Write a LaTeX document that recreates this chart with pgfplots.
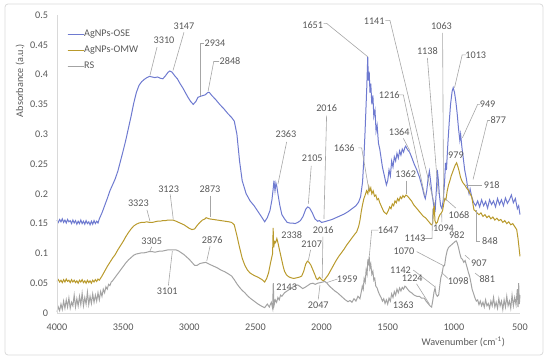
\documentclass[border=0pt]{standalone}
\usepackage{pgfplots}
\pgfplotsset{compat=1.18}
\usepackage{fontspec}
\setmainfont{Carlito}
\definecolor{oseblue}{HTML}{6E7AD0}
\definecolor{omwgold}{HTML}{B99A2C}
\definecolor{rsgray}{HTML}{A3A3A3}
\definecolor{labelgray}{HTML}{595959}
\definecolor{leadgray}{HTML}{A6A6A6}
\definecolor{framegray}{HTML}{D9D9D9}
\begin{document}
\begin{tikzpicture}[font=\fontsize{10.2bp}{12bp}\selectfont]
\draw[framegray, line width=0.75bp, rounded corners=3bp] (5bp,7bp) rectangle (543bp,358bp);
\begin{axis}[
  at={(57bp,49bp)}, anchor=south west,
  scale only axis, width=463bp, height=298bp,
  xmin=500, xmax=4000, ymin=0, ymax=0.5,
  x dir=reverse,
  xtick={500,1000,...,4000},
  ytick={0,0.05,...,0.5},
  axis line style={draw=none},
  major tick length=0pt,
  tick style={draw=none},
  clip=false,
  /pgf/number format/.cd, fixed, precision=2, 1000 sep={}, assume math mode=true,
  /pgfplots/.cd,
  yticklabel style={anchor=east, inner sep=0pt, xshift=-8.7bp, text=labelgray},
  xticklabel style={anchor=north, inner sep=0pt, yshift=-10.2bp, text=labelgray},
  legend style={at={(axis description cs:0.0216,0.952)}, anchor=north west, draw=none, fill=none,
    inner sep=0pt, row sep=6.5bp, font=\fontsize{10.2bp}{12bp}\selectfont,
    nodes={inner sep=0pt, text height=7bp, text depth=2.5bp, text=labelgray}},
  legend cell align=left,
  legend image code/.code={\draw[#1, line width=1bp] (0bp,0bp) -- (14bp,0bp); \path (0bp,0bp) -- (16bp,0bp);},
]
\addplot[oseblue, line width=1bp] coordinates {
(4000,0.156)(3990,0.152)(3980,0.157)(3970,0.153)(3960,0.158)(3950,0.152)(3940,0.156)(3930,0.151)(3920,0.157)(3910,0.153)
(3900,0.155)(3890,0.150)(3880,0.156)(3870,0.151)(3860,0.155)(3850,0.149)(3840,0.154)(3830,0.150)(3820,0.156)(3810,0.150)
(3800,0.154)(3790,0.149)(3780,0.155)(3770,0.150)(3760,0.153)(3750,0.148)(3740,0.154)(3730,0.149)(3720,0.155)(3710,0.150)
(3700,0.154)(3690,0.151)(3680,0.158)(3660,0.168)(3640,0.180)(3620,0.192)
(3600,0.205)(3580,0.215)(3560,0.225)(3540,0.238)(3520,0.255)(3500,0.272)(3480,0.290)(3460,0.310)(3440,0.330)(3420,0.352)
(3400,0.370)(3380,0.382)(3360,0.388)(3340,0.392)(3320,0.395)(3300,0.397)(3280,0.396)(3260,0.395)(3240,0.396)(3220,0.394)
(3200,0.393)(3180,0.398)(3160,0.404)(3147,0.406)(3130,0.404)(3110,0.398)(3090,0.393)(3070,0.385)(3050,0.378)(3030,0.370)
(3010,0.362)(2990,0.355)(2970,0.350)(2950,0.355)(2934,0.362)(2910,0.364)(2880,0.366)(2860,0.370)(2848,0.370)(2830,0.365)
(2800,0.358)(2770,0.350)(2740,0.343)(2710,0.335)(2680,0.328)(2660,0.322)(2640,0.300)(2620,0.255)(2600,0.222)(2570,0.200)
(2540,0.188)(2510,0.180)(2480,0.170)(2450,0.160)(2430,0.153)(2410,0.160)(2390,0.172)(2375,0.190)(2365,0.210)(2360,0.222)
(2352,0.205)(2345,0.218)(2338,0.212)(2330,0.200)(2315,0.180)(2300,0.165)(2280,0.158)(2260,0.152)(2240,0.151)(2220,0.151)
(2200,0.150)(2180,0.152)(2160,0.155)(2140,0.162)(2120,0.174)(2105,0.178)(2090,0.176)(2070,0.168)(2050,0.158)(2030,0.154)
(2016,0.155)(2000,0.152)(1980,0.153)(1950,0.155)(1920,0.157)(1890,0.160)(1860,0.163)(1830,0.166)(1800,0.170)(1770,0.175)
(1740,0.180)(1720,0.186)(1705,0.195)(1690,0.220)(1680,0.260)(1672,0.300)(1665,0.340)(1658,0.380)(1651,0.430)(1646,0.390)
(1640,0.405)(1634,0.370)(1628,0.385)(1620,0.350)(1612,0.365)(1605,0.330)(1596,0.340)(1588,0.305)(1580,0.315)(1570,0.285)
(1560,0.275)(1550,0.260)(1540,0.245)(1530,0.235)(1520,0.225)(1510,0.215)(1500,0.222)(1490,0.240)(1480,0.230)(1470,0.255)
(1460,0.245)(1450,0.262)(1440,0.255)(1430,0.268)(1420,0.260)(1410,0.272)(1400,0.265)(1390,0.275)(1380,0.270)(1370,0.278)
(1364,0.280)(1350,0.274)(1335,0.270)(1320,0.262)(1300,0.250)(1280,0.240)(1260,0.228)(1240,0.212)(1225,0.198)(1216,0.192)
(1205,0.205)(1195,0.225)(1185,0.238)(1175,0.220)(1165,0.200)(1155,0.185)(1148,0.175)(1141,0.172)(1138,0.185)(1130,0.215)
(1125,0.240)(1118,0.225)(1110,0.200)(1100,0.180)(1090,0.175)(1080,0.190)(1070,0.220)(1063,0.252)(1056,0.240)(1045,0.285)
(1035,0.320)(1025,0.350)(1013,0.372)(1005,0.378)(995,0.370)(985,0.355)(975,0.335)(965,0.310)(955,0.290)(949,0.300)
(940,0.280)(930,0.262)(918,0.240)(905,0.225)(895,0.210)(885,0.200)(877,0.208)(865,0.195)(850,0.185)(835,0.180)
(820,0.188)(805,0.178)(790,0.190)(775,0.180)(760,0.187)(745,0.176)(730,0.190)(715,0.182)(700,0.188)(685,0.178)
(670,0.192)(655,0.182)(640,0.190)(625,0.180)(610,0.193)(595,0.184)(580,0.190)(565,0.198)(550,0.185)(535,0.192)
(520,0.175)(510,0.180)(500,0.165)
};
\addlegendentry{AgNPs-OSE}
\addplot[omwgold, line width=1bp] coordinates {
(4000,0.053)(3990,0.056)(3980,0.052)(3970,0.055)(3960,0.051)(3950,0.056)(3940,0.052)(3930,0.057)(3920,0.053)(3910,0.055)
(3900,0.051)(3890,0.056)(3880,0.052)(3870,0.055)(3860,0.051)(3850,0.054)(3840,0.050)(3830,0.055)(3820,0.052)(3810,0.056)
(3800,0.051)(3790,0.054)(3780,0.050)(3770,0.055)(3760,0.051)(3750,0.054)(3740,0.050)(3730,0.055)(3720,0.052)(3710,0.056)
(3700,0.053)(3690,0.057)(3680,0.055)(3660,0.062)(3640,0.070)(3620,0.078)
(3600,0.085)(3580,0.092)(3560,0.098)(3540,0.106)(3520,0.113)(3500,0.120)(3480,0.128)(3460,0.135)(3440,0.141)(3420,0.146)
(3400,0.149)(3380,0.151)(3360,0.152)(3340,0.152)(3323,0.153)(3300,0.152)(3280,0.152)(3260,0.153)(3240,0.154)(3220,0.154)
(3200,0.155)(3180,0.155)(3160,0.156)(3140,0.156)(3123,0.156)(3100,0.154)(3080,0.152)(3060,0.150)(3040,0.148)(3020,0.145)
(3000,0.142)(2980,0.140)(2960,0.141)(2940,0.147)(2920,0.152)(2900,0.156)(2880,0.158)(2873,0.160)(2850,0.158)(2820,0.157)
(2790,0.156)(2760,0.155)(2730,0.154)(2700,0.153)(2680,0.152)(2660,0.148)(2640,0.130)(2620,0.110)(2600,0.092)(2580,0.080)
(2560,0.072)(2540,0.067)(2510,0.063)(2480,0.060)(2450,0.056)(2430,0.052)(2415,0.058)(2400,0.068)(2385,0.085)(2370,0.100)
(2366,0.143)(2362,0.110)(2355,0.120)(2348,0.118)(2338,0.125)(2330,0.118)(2320,0.108)(2310,0.098)(2300,0.088)(2290,0.078)
(2280,0.070)(2265,0.064)(2250,0.061)(2230,0.059)(2210,0.058)(2190,0.059)(2170,0.060)(2150,0.062)(2135,0.070)(2120,0.082)
(2107,0.087)(2095,0.085)(2080,0.080)(2065,0.072)(2050,0.064)(2040,0.058)(2030,0.056)(2016,0.060)(2000,0.056)(1985,0.054)
(1970,0.058)(1950,0.064)(1930,0.072)(1910,0.080)(1890,0.088)(1870,0.095)(1850,0.101)(1830,0.107)(1810,0.114)(1790,0.120)
(1770,0.126)(1750,0.132)(1735,0.136)(1720,0.145)(1710,0.155)(1700,0.170)(1690,0.182)(1680,0.192)(1670,0.198)(1660,0.205)
(1650,0.200)(1643,0.212)(1636,0.205)(1628,0.210)(1620,0.200)(1610,0.205)(1600,0.196)(1590,0.198)(1580,0.190)(1570,0.192)
(1560,0.185)(1550,0.180)(1540,0.175)(1530,0.170)(1520,0.168)(1508,0.166)(1495,0.172)(1485,0.178)(1475,0.175)(1465,0.183)
(1455,0.180)(1445,0.188)(1435,0.185)(1425,0.192)(1415,0.188)(1405,0.195)(1395,0.192)(1385,0.197)(1375,0.194)(1362,0.198)
(1350,0.196)(1335,0.192)(1320,0.188)(1305,0.182)(1290,0.178)(1275,0.174)(1260,0.170)(1245,0.166)(1230,0.162)(1215,0.160)
(1200,0.156)(1185,0.152)(1170,0.148)(1160,0.150)(1153,0.175)(1148,0.180)(1143,0.155)(1135,0.150)(1125,0.152)(1115,0.160)
(1105,0.165)(1094,0.168)(1085,0.172)(1075,0.185)(1068,0.192)(1060,0.190)(1050,0.205)(1040,0.215)(1030,0.222)(1020,0.230)
(1010,0.236)(1000,0.242)(990,0.248)(979,0.252)(970,0.246)(960,0.238)(950,0.228)(940,0.222)(930,0.218)(918,0.215)
(905,0.210)(890,0.206)(877,0.200)(865,0.195)(855,0.182)(848,0.173)(840,0.172)(825,0.168)(810,0.165)(795,0.168)
(780,0.162)(765,0.165)(750,0.160)(735,0.163)(720,0.158)(705,0.161)(690,0.156)(675,0.159)(660,0.155)(645,0.157)
(630,0.152)(615,0.155)(600,0.150)(585,0.153)(570,0.148)(555,0.150)(540,0.145)(525,0.140)(515,0.125)(505,0.105)
(500,0.095)
};
\addlegendentry{AgNPs-OMW}
\addplot[rsgray, line width=1bp] coordinates {
(4000,0.002)(3990,0.010)(3980,0.004)(3970,0.015)(3960,0.006)(3950,0.020)(3940,0.008)(3930,0.022)(3920,0.010)(3910,0.025)
(3900,0.008)(3890,0.018)(3880,0.012)(3870,0.030)(3860,0.010)(3850,0.024)(3840,0.012)(3830,0.028)(3820,0.014)(3810,0.033)
(3800,0.012)(3790,0.026)(3780,0.015)(3770,0.035)(3760,0.014)(3750,0.028)(3740,0.016)(3730,0.032)(3720,0.018)(3710,0.030)
(3700,0.020)(3690,0.034)(3680,0.022)(3670,0.036)(3660,0.028)(3650,0.040)(3640,0.034)(3630,0.044)(3620,0.040)(3610,0.048)
(3600,0.046)(3590,0.052)(3580,0.054)(3560,0.060)(3540,0.066)(3520,0.072)(3500,0.078)(3480,0.084)(3460,0.089)(3440,0.093)
(3420,0.097)(3400,0.099)(3380,0.100)(3360,0.101)(3340,0.101)(3320,0.102)(3305,0.103)(3280,0.103)(3260,0.102)(3240,0.103)
(3220,0.104)(3200,0.104)(3180,0.105)(3160,0.106)(3140,0.106)(3120,0.106)(3101,0.106)(3080,0.104)(3060,0.101)(3040,0.098)
(3020,0.094)(3000,0.090)(2980,0.085)(2960,0.080)(2940,0.080)(2920,0.083)(2900,0.084)(2876,0.085)(2850,0.082)(2820,0.079)
(2790,0.076)(2760,0.072)(2730,0.069)(2700,0.065)(2680,0.062)(2660,0.056)(2640,0.049)(2620,0.043)(2600,0.038)(2580,0.034)
(2560,0.029)(2540,0.025)(2510,0.020)(2480,0.015)(2450,0.011)(2430,0.009)(2410,0.015)(2395,0.010)(2380,0.018)(2370,0.008)
(2365,0.050)(2360,0.012)(2350,0.022)(2340,0.018)(2330,0.026)(2320,0.022)(2310,0.030)(2300,0.028)(2280,0.034)(2260,0.037)
(2240,0.040)(2220,0.043)(2200,0.046)(2180,0.047)(2160,0.044)(2143,0.041)(2125,0.043)(2105,0.046)(2085,0.049)(2065,0.050)
(2047,0.048)(2030,0.050)(2010,0.051)(1990,0.052)(1975,0.053)(1959,0.050)(1940,0.045)(1920,0.041)(1900,0.037)(1880,0.034)
(1860,0.030)(1840,0.026)(1820,0.022)(1800,0.019)(1785,0.021)(1770,0.018)(1755,0.024)(1740,0.020)(1725,0.028)(1710,0.024)
(1700,0.035)(1692,0.045)(1685,0.040)(1678,0.058)(1670,0.052)(1663,0.072)(1656,0.065)(1650,0.090)(1645,0.080)(1640,0.095)
(1635,0.075)(1628,0.082)(1620,0.065)(1612,0.070)(1605,0.055)(1598,0.058)(1590,0.045)(1580,0.042)(1570,0.035)(1560,0.030)
(1550,0.026)(1540,0.020)(1530,0.024)(1520,0.016)(1510,0.022)(1500,0.015)(1490,0.025)(1480,0.020)(1470,0.032)(1460,0.026)
(1450,0.036)(1440,0.030)(1430,0.040)(1420,0.034)(1410,0.042)(1400,0.037)(1390,0.043)(1380,0.040)(1370,0.045)(1363,0.044)
(1350,0.040)(1335,0.036)(1320,0.034)(1300,0.030)(1280,0.028)(1260,0.028)(1245,0.025)(1224,0.025)(1210,0.020)(1195,0.016)
(1180,0.012)(1168,0.010)(1160,0.020)(1150,0.035)(1142,0.042)(1135,0.032)(1125,0.028)(1115,0.030)(1105,0.048)(1098,0.060)
(1090,0.065)(1080,0.078)(1070,0.080)(1060,0.095)(1050,0.105)(1040,0.110)(1030,0.112)(1015,0.115)(1000,0.118)(990,0.120)
(982,0.121)(975,0.118)(965,0.110)(955,0.100)(945,0.092)(935,0.090)(925,0.085)(915,0.088)(907,0.082)(898,0.075)
(890,0.068)(881,0.062)(872,0.052)(862,0.040)(850,0.032)(840,0.025)(830,0.020)(820,0.022)(810,0.014)(800,0.020)
(790,0.012)(780,0.018)(770,0.010)(760,0.022)(750,0.012)(740,0.016)(730,0.008)(720,0.020)(710,0.012)(700,0.026)
(690,0.010)(680,0.018)(670,0.008)(660,0.024)(650,0.012)(640,0.020)(630,0.006)(620,0.022)(610,0.010)(600,0.028)
(590,0.012)(580,0.020)(570,0.008)(560,0.030)(550,0.012)(540,0.026)(530,0.014)(520,0.040)(515,0.010)(510,0.050)
(505,0.015)(500,0.030)
};
\addlegendentry{RS}
% leader lines
\begin{scope}[leadgray, line width=0.6bp]
\draw (axis cs:3244,0.446) -- (axis cs:3297,0.399);
\draw (axis cs:3040,0.471) -- (axis cs:3123,0.407);
\draw (axis cs:2888,0.453) -- (axis cs:2919,0.453) -- (axis cs:2919,0.364);
\draw (axis cs:2775,0.422) -- (axis cs:2815,0.422) -- (axis cs:2858,0.372);
\draw (axis cs:2264,0.287) -- (axis cs:2330,0.216);
\draw (axis cs:2078,0.247) -- (axis cs:2100,0.183);
\draw (axis cs:1962,0.331) -- (axis cs:1982,0.158);
\draw (axis cs:1722,0.277) -- (axis cs:1697,0.277) -- (axis cs:1642,0.206);
\draw (axis cs:1985,0.486) -- (axis cs:1962,0.486) -- (axis cs:1651,0.430);
\draw (axis cs:1518,0.491) -- (axis cs:1483,0.491) -- (axis cs:1145,0.180);
\draw (axis cs:1200,0.428) -- (axis cs:1118,0.200);
\draw (axis cs:1085,0.470) -- (axis cs:1078,0.190);
\draw (axis cs:910,0.433) -- (axis cs:937,0.433) -- (axis cs:995,0.378);
\draw (axis cs:1413,0.366) -- (axis cs:1382,0.366) -- (axis cs:1220,0.197);
\draw (axis cs:1382,0.293) -- (axis cs:1332,0.272);
\draw (axis cs:1362,0.222) -- (axis cs:1362,0.200);
\draw (axis cs:802,0.350) -- (axis cs:820,0.350) -- (axis cs:935,0.294);
\draw (axis cs:727,0.323) -- (axis cs:745,0.323) -- (axis cs:855,0.224);
\draw (axis cs:790,0.214) -- (axis cs:916,0.214);
\draw (axis cs:985,0.176) -- (axis cs:1067,0.192);
\draw (axis cs:802,0.121) -- (axis cs:827,0.121) -- (axis cs:827,0.172);
\draw (axis cs:1090,0.152) -- (axis cs:1092,0.167);
\draw (axis cs:1240,0.125) -- (axis cs:1165,0.125) -- (axis cs:1160,0.175);
\draw (axis cs:1571,0.139) -- (axis cs:1621,0.139) -- (axis cs:1639,0.095);
\draw (axis cs:2083,0.106) -- (axis cs:2100,0.088);
\draw (axis cs:2025,0.023) -- (axis cs:2012,0.047);
\draw (axis cs:1880,0.057) -- (axis cs:1961,0.051);
\draw (axis cs:1306,0.072) -- (axis cs:1143,0.044);
\draw (axis cs:1282,0.049) -- (axis cs:1185,0.015);
\draw (axis cs:1281,0.103) -- (axis cs:1075,0.079);
\draw (axis cs:1045,0.058) -- (axis cs:1092,0.068);
\draw (axis cs:880,0.090) -- (axis cs:916,0.097);
\draw (axis cs:800,0.060) -- (axis cs:840,0.067);
\draw (axis cs:3320,0.173) -- (axis cs:3297,0.154);
\draw (axis cs:3144,0.199) -- (axis cs:3121,0.157);
\draw (axis cs:2843,0.197) -- (axis cs:2843,0.161);
\draw (axis cs:3284,0.111) -- (axis cs:3297,0.104);
\draw (axis cs:2843,0.112) -- (axis cs:2868,0.087);
\draw (axis cs:3158,0.046) -- (axis cs:3128,0.104);
\draw (axis cs:1990,0.128) -- (axis cs:1995,0.058);
\end{scope}
% data labels
\begin{scope}[every node/.style={text=labelgray, inner sep=0pt, font=\fontsize{10.2bp}{12bp}\selectfont}]
\node at (axis cs:3191,0.457) {3310};
\node at (axis cs:3040,0.482) {3147};
\node at (axis cs:2806,0.453) {2934};
\node at (axis cs:2692,0.422) {2848};
\node at (axis cs:2269,0.300) {2363};
\node at (axis cs:2070,0.260) {2105};
\node at (axis cs:1962,0.344) {2016};
\node at (axis cs:1828,0.277) {1636};
\node at (axis cs:2067,0.483) {1651};
\node at (axis cs:1602,0.489) {1141};
\node at (axis cs:1200,0.440) {1138};
\node at (axis cs:1093,0.482) {1063};
\node at (axis cs:834,0.433) {1013};
\node at (axis cs:1488,0.366) {1216};
\node at (axis cs:1413,0.303) {1364};
\node at (axis cs:1364,0.233) {1362};
\node at (axis cs:984,0.265) {979};
\node at (axis cs:745,0.350) {949};
\node at (axis cs:664,0.323) {877};
\node at (axis cs:714,0.214) {918};
\node at (axis cs:961,0.164) {1068};
\node at (axis cs:727,0.121) {848};
\node at (axis cs:1078,0.143) {1094};
\node at (axis cs:1294,0.125) {1143};
\node at (axis cs:978,0.130) {982};
\node at (axis cs:1496,0.139) {1647};
\node at (axis cs:2226,0.130) {2338};
\node at (axis cs:2075,0.116) {2107};
\node at (axis cs:1987,0.139) {2016};
\node at (axis cs:2264,0.043) {2143};
\node at (axis cs:2025,0.013) {2047};
\node at (axis cs:1806,0.057) {1959};
\node at (axis cs:1403,0.072) {1142};
\node at (axis cs:1314,0.058) {1224};
\node at (axis cs:1382,0.013) {1363};
\node at (axis cs:1377,0.103) {1070};
\node at (axis cs:967,0.053) {1098};
\node at (axis cs:810,0.083) {907};
\node at (axis cs:747,0.057) {881};
\node at (axis cs:3385,0.184) {3323};
\node at (axis cs:3156,0.208) {3123};
\node at (axis cs:2843,0.208) {2873};
\node at (axis cs:3284,0.120) {3305};
\node at (axis cs:2826,0.122) {2876};
\node at (axis cs:3166,0.037) {3101};
\end{scope}
\end{axis}
\draw[framegray, line width=0.75bp] (57bp,49bp) -- (520bp,49bp);
\draw[framegray, line width=0.75bp] (57bp,49bp) -- (57bp,347bp);
\node[rotate=90, text=labelgray, inner sep=0pt] at (20bp,281.3bp) {Absorbance (a.u.)};
\node[text=labelgray, inner sep=0pt] at (463.3bp,20.3bp) {Wavenumber (cm\textsuperscript{-1})};
\pgfresetboundingbox
\useasboundingbox (0,0) rectangle (550bp,362bp);
\end{tikzpicture}
\end{document}
